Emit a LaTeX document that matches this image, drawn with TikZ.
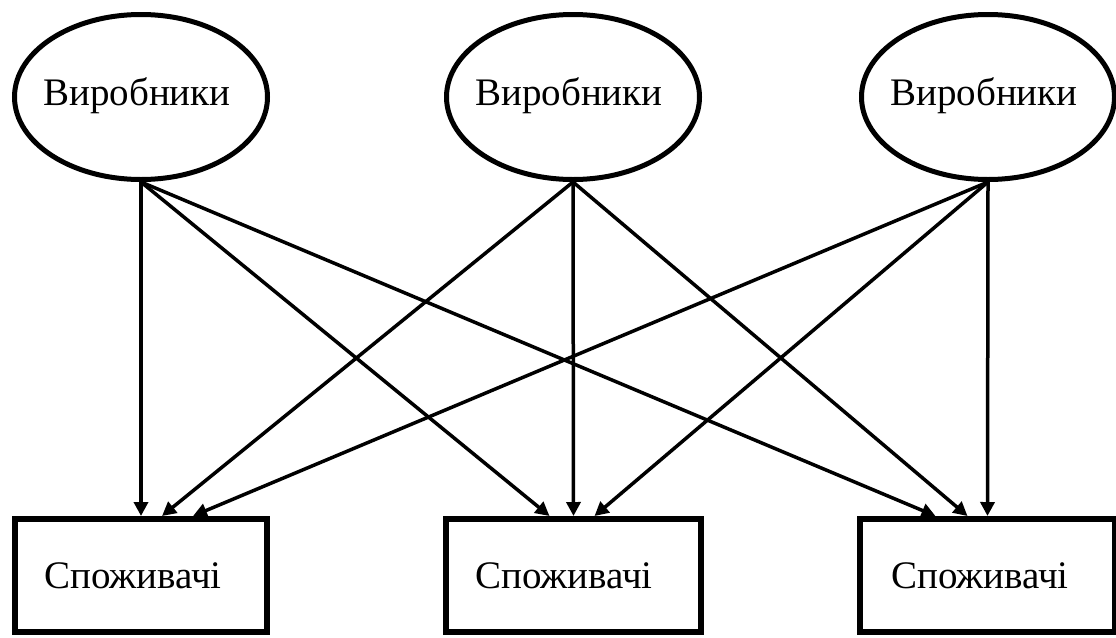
\documentclass[tikz,border=0pt]{standalone}
\usepackage{fontspec}
\setmainfont{Liberation Serif}
\usetikzlibrary{shapes.geometric,arrows.meta}
\begin{document}
\begin{tikzpicture}[x=1pt,y=-1pt,
  producer/.style={draw,ellipse,line width=5pt,minimum width=253pt,minimum height=165pt,inner sep=0pt},
  consumer/.style={draw,rectangle,line width=6pt,minimum height=113pt,inner sep=0pt},
  flow/.style={line width=3.5pt,-{Triangle[length=14pt,width=14pt]}},
  txt/.style={font=\fontsize{39}{41}\selectfont}]
\useasboundingbox (0,0) rectangle (1116,637);

% producers
\node[producer] (E1) at (141,97) {};
\node[producer] (E2) at (573,97) {};
\node[producer] (E3) at (988,97) {};
\node[txt] (tE1) at (137,96) {Виробники};
\node[txt] (tE2) at (569,96) {Виробники};
\node[txt] (tE3) at (984,96) {Виробники};

% consumers
\node[consumer,minimum width=252pt] (R1) at (141,575.5) {};
\node[consumer,minimum width=255pt] (R2) at (573.5,575.5) {};
\node[consumer,minimum width=255pt] (R3) at (987.5,575.5) {};
\node[txt] (tR1) at (133,576) {Споживачі};
\node[txt] (tR2) at (564,576) {Споживачі};
\node[txt] (tR3) at (980,576) {Споживачі};

% arrow end points on top of the consumer boxes
\coordinate (r1b) at ([xshift=21pt]R1.north);
\coordinate (r1c) at ([xshift=52pt]R1.north);
\coordinate (r2a) at ([xshift=-24pt]R2.north);
\coordinate (r2c) at ([xshift=21pt]R2.north);
\coordinate (r3a) at ([xshift=-52pt]R3.north);
\coordinate (r3b) at ([xshift=-20pt]R3.north);

% flows
\draw[flow] (E1.south) -- (R1.north);
\draw[flow] (E1.south) -- (r2a);
\draw[flow] (E1.south) -- (r3a);
\draw[flow] (E2.south) -- (r1b);
\draw[flow] (E2.south) -- (R2.north);
\draw[flow] (E2.south) -- (r3b);
\draw[flow] (E3.south) -- (r1c);
\draw[flow] (E3.south) -- (r2c);
\draw[flow] (E3.south) -- (R3.north);
\end{tikzpicture}
\end{document}
